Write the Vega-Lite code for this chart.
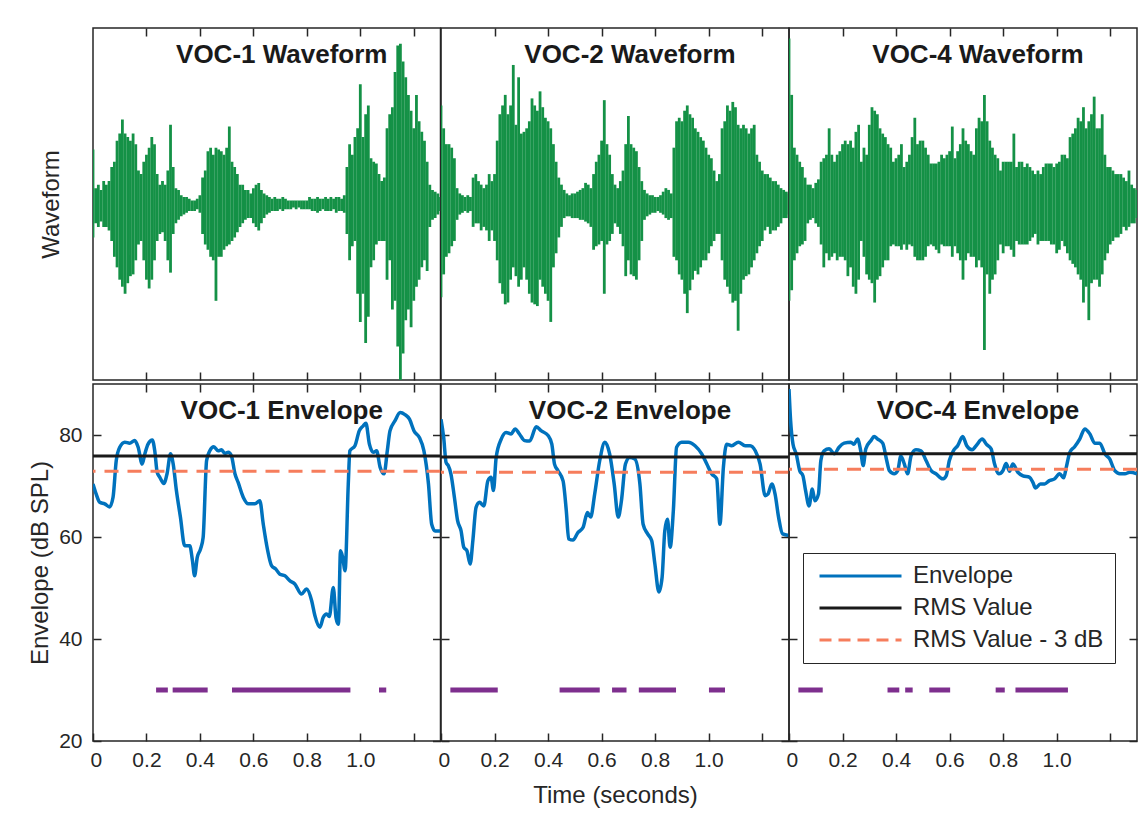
{
"$schema": "https://vega.github.io/schema/vega-lite/v6.json",
"padding": {"left": 27, "top": 26, "right": 5, "bottom": 5},
"background": "white",
"datasets": {
"w1": [
{"t":0.00,"hi":0.31,"lo":-0.19},{"t":0.01,"hi":0.09,"lo":-0.11},{"t":0.02,"hi":0.11,"lo":-0.13},{"t":0.03,"hi":0.08,"lo":-0.10},{"t":0.04,"hi":0.13,"lo":-0.13},{"t":0.05,"hi":0.11,"lo":-0.13},{"t":0.06,"hi":0.13,"lo":-0.15},{"t":0.07,"hi":0.21,"lo":-0.21},{"t":0.08,"hi":0.24,"lo":-0.30},{"t":0.09,"hi":0.36,"lo":-0.36},
{"t":0.10,"hi":0.40,"lo":-0.43},{"t":0.11,"hi":0.48,"lo":-0.47},{"t":0.12,"hi":0.40,"lo":-0.51},{"t":0.13,"hi":0.38,"lo":-0.45},{"t":0.14,"hi":0.36,"lo":-0.41},{"t":0.15,"hi":0.40,"lo":-0.40},{"t":0.16,"hi":0.34,"lo":-0.32},{"t":0.17,"hi":0.19,"lo":-0.23},{"t":0.18,"hi":0.17,"lo":-0.21},{"t":0.19,"hi":0.24,"lo":-0.32},
{"t":0.20,"hi":0.28,"lo":-0.43},{"t":0.21,"hi":0.32,"lo":-0.48},{"t":0.22,"hi":0.38,"lo":-0.43},{"t":0.23,"hi":0.34,"lo":-0.32},{"t":0.24,"hi":0.17,"lo":-0.21},{"t":0.25,"hi":0.11,"lo":-0.17},{"t":0.26,"hi":0.13,"lo":-0.16},{"t":0.27,"hi":0.11,"lo":-0.21},{"t":0.28,"hi":0.19,"lo":-0.32},{"t":0.29,"hi":0.45,"lo":-0.39},
{"t":0.30,"hi":0.21,"lo":-0.17},{"t":0.31,"hi":0.09,"lo":-0.11},{"t":0.32,"hi":0.08,"lo":-0.09},{"t":0.33,"hi":0.05,"lo":-0.07},{"t":0.34,"hi":0.04,"lo":-0.06},{"t":0.35,"hi":0.04,"lo":-0.05},{"t":0.36,"hi":0.03,"lo":-0.04},{"t":0.37,"hi":0.02,"lo":-0.04},{"t":0.38,"hi":0.02,"lo":-0.04},{"t":0.39,"hi":0.03,"lo":-0.03},
{"t":0.40,"hi":0.05,"lo":-0.05},{"t":0.41,"hi":0.15,"lo":-0.17},{"t":0.42,"hi":0.19,"lo":-0.23},{"t":0.43,"hi":0.30,"lo":-0.26},{"t":0.44,"hi":0.32,"lo":-0.30},{"t":0.45,"hi":0.28,"lo":-0.32},{"t":0.46,"hi":0.32,"lo":-0.55},{"t":0.47,"hi":0.31,"lo":-0.30},{"t":0.48,"hi":0.30,"lo":-0.30},{"t":0.49,"hi":0.28,"lo":-0.26},
{"t":0.50,"hi":0.32,"lo":-0.24},{"t":0.51,"hi":0.44,"lo":-0.23},{"t":0.52,"hi":0.24,"lo":-0.21},{"t":0.53,"hi":0.21,"lo":-0.19},{"t":0.54,"hi":0.17,"lo":-0.16},{"t":0.55,"hi":0.11,"lo":-0.13},{"t":0.56,"hi":0.11,"lo":-0.11},{"t":0.57,"hi":0.08,"lo":-0.09},{"t":0.58,"hi":0.08,"lo":-0.08},{"t":0.59,"hi":0.06,"lo":-0.08},
{"t":0.60,"hi":0.09,"lo":-0.11},{"t":0.61,"hi":0.11,"lo":-0.13},{"t":0.62,"hi":0.12,"lo":-0.15},{"t":0.63,"hi":0.08,"lo":-0.11},{"t":0.64,"hi":0.06,"lo":-0.08},{"t":0.65,"hi":0.05,"lo":-0.06},{"t":0.66,"hi":0.04,"lo":-0.05},{"t":0.67,"hi":0.03,"lo":-0.04},{"t":0.68,"hi":0.04,"lo":-0.04},{"t":0.69,"hi":0.03,"lo":-0.04},
{"t":0.70,"hi":0.03,"lo":-0.03},{"t":0.71,"hi":0.04,"lo":-0.04},{"t":0.72,"hi":0.03,"lo":-0.03},{"t":0.73,"hi":0.02,"lo":-0.03},{"t":0.74,"hi":0.02,"lo":-0.03},{"t":0.75,"hi":0.02,"lo":-0.02},{"t":0.76,"hi":0.02,"lo":-0.03},{"t":0.77,"hi":0.02,"lo":-0.02},{"t":0.78,"hi":0.02,"lo":-0.03},{"t":0.79,"hi":0.02,"lo":-0.03},
{"t":0.80,"hi":0.02,"lo":-0.03},{"t":0.81,"hi":0.04,"lo":-0.03},{"t":0.82,"hi":0.03,"lo":-0.04},{"t":0.83,"hi":0.03,"lo":-0.04},{"t":0.84,"hi":0.04,"lo":-0.05},{"t":0.85,"hi":0.03,"lo":-0.04},{"t":0.86,"hi":0.03,"lo":-0.03},{"t":0.87,"hi":0.04,"lo":-0.04},{"t":0.88,"hi":0.03,"lo":-0.04},{"t":0.89,"hi":0.04,"lo":-0.04},
{"t":0.90,"hi":0.03,"lo":-0.03},{"t":0.91,"hi":0.04,"lo":-0.05},{"t":0.92,"hi":0.04,"lo":-0.04},{"t":0.93,"hi":0.03,"lo":-0.04},{"t":0.94,"hi":0.05,"lo":-0.05},{"t":0.95,"hi":0.21,"lo":-0.17},{"t":0.96,"hi":0.34,"lo":-0.32},{"t":0.97,"hi":0.28,"lo":-0.24},{"t":0.98,"hi":0.38,"lo":-0.21},{"t":0.99,"hi":0.43,"lo":-0.51},
{"t":1.00,"hi":0.68,"lo":-0.67},{"t":1.01,"hi":0.38,"lo":-0.51},{"t":1.02,"hi":0.51,"lo":-0.79},{"t":1.03,"hi":0.56,"lo":-0.64},{"t":1.04,"hi":0.26,"lo":-0.36},{"t":1.05,"hi":0.24,"lo":-0.32},{"t":1.06,"hi":0.23,"lo":-0.23},{"t":1.07,"hi":0.17,"lo":-0.21},{"t":1.08,"hi":0.13,"lo":-0.21},{"t":1.09,"hi":0.15,"lo":-0.21},
{"t":1.10,"hi":0.43,"lo":-0.43},{"t":1.11,"hi":0.51,"lo":-0.32},{"t":1.12,"hi":0.55,"lo":-0.60},{"t":1.13,"hi":0.75,"lo":-0.55},{"t":1.14,"hi":0.90,"lo":-0.81},{"t":1.15,"hi":0.91,"lo":-1.0},{"t":1.16,"hi":0.81,"lo":-0.85},{"t":1.17,"hi":0.72,"lo":-0.66},{"t":1.18,"hi":0.62,"lo":-0.60},{"t":1.19,"hi":0.53,"lo":-0.70},
{"t":1.20,"hi":0.43,"lo":-0.55},{"t":1.21,"hi":0.62,"lo":-0.47},{"t":1.22,"hi":0.47,"lo":-0.43},{"t":1.23,"hi":0.41,"lo":-0.36},{"t":1.24,"hi":0.36,"lo":-0.32},{"t":1.25,"hi":0.24,"lo":-0.38},{"t":1.26,"hi":0.11,"lo":-0.13},{"t":1.27,"hi":0.08,"lo":-0.09},{"t":1.28,"hi":0.07,"lo":-0.08},{"t":1.29,"hi":0.06,"lo":-0.06},
{"t":1.30,"hi":0.04,"lo":-0.04}
],
"w2": [
{"t":0.00,"hi":0.56,"lo":-0.53},{"t":0.01,"hi":0.43,"lo":-0.40},{"t":0.02,"hi":0.34,"lo":-0.30},{"t":0.03,"hi":0.34,"lo":-0.28},{"t":0.04,"hi":0.32,"lo":-0.24},{"t":0.05,"hi":0.26,"lo":-0.21},{"t":0.06,"hi":0.09,"lo":-0.09},{"t":0.07,"hi":0.06,"lo":-0.06},{"t":0.08,"hi":0.05,"lo":-0.05},{"t":0.09,"hi":0.04,"lo":-0.04},
{"t":0.10,"hi":0.05,"lo":-0.05},{"t":0.11,"hi":0.04,"lo":-0.04},{"t":0.12,"hi":0.15,"lo":-0.13},{"t":0.13,"hi":0.17,"lo":-0.11},{"t":0.14,"hi":0.13,"lo":-0.11},{"t":0.15,"hi":0.11,"lo":-0.15},{"t":0.16,"hi":0.09,"lo":-0.13},{"t":0.17,"hi":0.11,"lo":-0.15},{"t":0.18,"hi":0.17,"lo":-0.21},{"t":0.19,"hi":0.13,"lo":-0.15},
{"t":0.20,"hi":0.17,"lo":-0.21},{"t":0.21,"hi":0.36,"lo":-0.32},{"t":0.22,"hi":0.51,"lo":-0.45},{"t":0.23,"hi":0.56,"lo":-0.51},{"t":0.24,"hi":0.62,"lo":-0.57},{"t":0.25,"hi":0.51,"lo":-0.56},{"t":0.26,"hi":0.56,"lo":-0.43},{"t":0.27,"hi":0.79,"lo":-0.36},{"t":0.28,"hi":0.45,"lo":-0.41},{"t":0.29,"hi":0.72,"lo":-0.47},
{"t":0.30,"hi":0.40,"lo":-0.43},{"t":0.31,"hi":0.41,"lo":-0.36},{"t":0.32,"hi":0.43,"lo":-0.43},{"t":0.33,"hi":0.47,"lo":-0.51},{"t":0.34,"hi":0.60,"lo":-0.56},{"t":0.35,"hi":0.56,"lo":-0.57},{"t":0.36,"hi":0.53,"lo":-0.58},{"t":0.37,"hi":0.64,"lo":-0.43},{"t":0.38,"hi":0.55,"lo":-0.47},{"t":0.39,"hi":0.49,"lo":-0.51},
{"t":0.40,"hi":0.47,"lo":-0.55},{"t":0.41,"hi":0.43,"lo":-0.67},{"t":0.42,"hi":0.34,"lo":-0.36},{"t":0.43,"hi":0.24,"lo":-0.28},{"t":0.44,"hi":0.15,"lo":-0.19},{"t":0.45,"hi":0.11,"lo":-0.13},{"t":0.46,"hi":0.08,"lo":-0.08},{"t":0.47,"hi":0.06,"lo":-0.07},{"t":0.48,"hi":0.05,"lo":-0.07},{"t":0.49,"hi":0.06,"lo":-0.08},
{"t":0.50,"hi":0.06,"lo":-0.08},{"t":0.51,"hi":0.07,"lo":-0.08},{"t":0.52,"hi":0.08,"lo":-0.09},{"t":0.53,"hi":0.09,"lo":-0.09},{"t":0.54,"hi":0.12,"lo":-0.10},{"t":0.55,"hi":0.11,"lo":-0.11},{"t":0.56,"hi":0.09,"lo":-0.13},{"t":0.57,"hi":0.17,"lo":-0.26},{"t":0.58,"hi":0.24,"lo":-0.24},{"t":0.59,"hi":0.28,"lo":-0.23},
{"t":0.60,"hi":0.36,"lo":-0.21},{"t":0.61,"hi":0.59,"lo":-0.51},{"t":0.62,"hi":0.34,"lo":-0.23},{"t":0.63,"hi":0.28,"lo":-0.21},{"t":0.64,"hi":0.17,"lo":-0.17},{"t":0.65,"hi":0.11,"lo":-0.11},{"t":0.66,"hi":0.09,"lo":-0.13},{"t":0.67,"hi":0.13,"lo":-0.17},{"t":0.68,"hi":0.19,"lo":-0.24},{"t":0.69,"hi":0.34,"lo":-0.41},
{"t":0.70,"hi":0.50,"lo":-0.32},{"t":0.71,"hi":0.34,"lo":-0.40},{"t":0.72,"hi":0.32,"lo":-0.41},{"t":0.73,"hi":0.30,"lo":-0.43},{"t":0.74,"hi":0.21,"lo":-0.32},{"t":0.75,"hi":0.13,"lo":-0.21},{"t":0.76,"hi":0.08,"lo":-0.09},{"t":0.77,"hi":0.06,"lo":-0.07},{"t":0.78,"hi":0.05,"lo":-0.06},{"t":0.79,"hi":0.05,"lo":-0.05},
{"t":0.80,"hi":0.04,"lo":-0.05},{"t":0.81,"hi":0.04,"lo":-0.04},{"t":0.82,"hi":0.05,"lo":-0.05},{"t":0.83,"hi":0.07,"lo":-0.06},{"t":0.84,"hi":0.09,"lo":-0.08},{"t":0.85,"hi":0.08,"lo":-0.09},{"t":0.86,"hi":0.06,"lo":-0.08},{"t":0.87,"hi":0.32,"lo":-0.30},{"t":0.88,"hi":0.47,"lo":-0.32},{"t":0.89,"hi":0.49,"lo":-0.40},
{"t":0.90,"hi":0.47,"lo":-0.43},{"t":0.91,"hi":0.53,"lo":-0.51},{"t":0.92,"hi":0.56,"lo":-0.62},{"t":0.93,"hi":0.51,"lo":-0.49},{"t":0.94,"hi":0.49,"lo":-0.43},{"t":0.95,"hi":0.43,"lo":-0.38},{"t":0.96,"hi":0.41,"lo":-0.40},{"t":0.97,"hi":0.38,"lo":-0.36},{"t":0.98,"hi":0.36,"lo":-0.32},{"t":0.99,"hi":0.32,"lo":-0.32},
{"t":1.00,"hi":0.28,"lo":-0.28},{"t":1.01,"hi":0.26,"lo":-0.24},{"t":1.02,"hi":0.19,"lo":-0.21},{"t":1.03,"hi":0.13,"lo":-0.17},{"t":1.04,"hi":0.17,"lo":-0.17},{"t":1.05,"hi":0.43,"lo":-0.32},{"t":1.06,"hi":0.47,"lo":-0.43},{"t":1.07,"hi":0.56,"lo":-0.47},{"t":1.08,"hi":0.53,"lo":-0.51},{"t":1.09,"hi":0.58,"lo":-0.56},
{"t":1.10,"hi":0.55,"lo":-0.55},{"t":1.11,"hi":0.45,"lo":-0.72},{"t":1.12,"hi":0.43,"lo":-0.51},{"t":1.13,"hi":0.45,"lo":-0.43},{"t":1.14,"hi":0.43,"lo":-0.41},{"t":1.15,"hi":0.40,"lo":-0.40},{"t":1.16,"hi":0.43,"lo":-0.36},{"t":1.17,"hi":0.45,"lo":-0.32},{"t":1.18,"hi":0.28,"lo":-0.28},{"t":1.19,"hi":0.24,"lo":-0.24},
{"t":1.20,"hi":0.19,"lo":-0.21},{"t":1.21,"hi":0.17,"lo":-0.15},{"t":1.22,"hi":0.17,"lo":-0.13},{"t":1.23,"hi":0.15,"lo":-0.17},{"t":1.24,"hi":0.13,"lo":-0.15},{"t":1.25,"hi":0.13,"lo":-0.15},{"t":1.26,"hi":0.11,"lo":-0.13},{"t":1.27,"hi":0.09,"lo":-0.11},{"t":1.28,"hi":0.08,"lo":-0.08},{"t":1.29,"hi":0.07,"lo":-0.08},
{"t":1.30,"hi":0.06,"lo":-0.06}
],
"w4": [
{"t":0.00,"hi":0.94,"lo":-0.55},{"t":0.01,"hi":0.62,"lo":-0.49},{"t":0.02,"hi":0.32,"lo":-0.32},{"t":0.03,"hi":0.28,"lo":-0.28},{"t":0.04,"hi":0.24,"lo":-0.24},{"t":0.05,"hi":0.21,"lo":-0.23},{"t":0.06,"hi":0.15,"lo":-0.21},{"t":0.07,"hi":0.11,"lo":-0.11},{"t":0.08,"hi":0.11,"lo":-0.09},{"t":0.09,"hi":0.09,"lo":-0.08},
{"t":0.10,"hi":0.12,"lo":-0.11},{"t":0.11,"hi":0.14,"lo":-0.13},{"t":0.12,"hi":0.24,"lo":-0.23},{"t":0.13,"hi":0.26,"lo":-0.36},{"t":0.14,"hi":0.28,"lo":-0.28},{"t":0.15,"hi":0.43,"lo":-0.32},{"t":0.16,"hi":0.28,"lo":-0.30},{"t":0.17,"hi":0.24,"lo":-0.28},{"t":0.18,"hi":0.28,"lo":-0.32},{"t":0.19,"hi":0.30,"lo":-0.30},
{"t":0.20,"hi":0.34,"lo":-0.30},{"t":0.21,"hi":0.36,"lo":-0.32},{"t":0.22,"hi":0.34,"lo":-0.41},{"t":0.23,"hi":0.36,"lo":-0.36},{"t":0.24,"hi":0.32,"lo":-0.47},{"t":0.25,"hi":0.41,"lo":-0.51},{"t":0.26,"hi":0.45,"lo":-0.43},{"t":0.27,"hi":0.24,"lo":-0.21},{"t":0.28,"hi":0.32,"lo":-0.30},{"t":0.29,"hi":0.28,"lo":-0.40},
{"t":0.30,"hi":0.45,"lo":-0.43},{"t":0.31,"hi":0.55,"lo":-0.45},{"t":0.32,"hi":0.53,"lo":-0.56},{"t":0.33,"hi":0.51,"lo":-0.43},{"t":0.34,"hi":0.43,"lo":-0.41},{"t":0.35,"hi":0.40,"lo":-0.36},{"t":0.36,"hi":0.38,"lo":-0.32},{"t":0.37,"hi":0.34,"lo":-0.32},{"t":0.38,"hi":0.32,"lo":-0.24},{"t":0.39,"hi":0.24,"lo":-0.23},
{"t":0.40,"hi":0.26,"lo":-0.24},{"t":0.41,"hi":0.28,"lo":-0.24},{"t":0.42,"hi":0.34,"lo":-0.26},{"t":0.43,"hi":0.21,"lo":-0.23},{"t":0.44,"hi":0.24,"lo":-0.26},{"t":0.45,"hi":0.28,"lo":-0.23},{"t":0.46,"hi":0.38,"lo":-0.24},{"t":0.47,"hi":0.49,"lo":-0.30},{"t":0.48,"hi":0.34,"lo":-0.32},{"t":0.49,"hi":0.36,"lo":-0.32},
{"t":0.50,"hi":0.36,"lo":-0.32},{"t":0.51,"hi":0.32,"lo":-0.30},{"t":0.52,"hi":0.28,"lo":-0.24},{"t":0.53,"hi":0.23,"lo":-0.23},{"t":0.54,"hi":0.23,"lo":-0.24},{"t":0.55,"hi":0.23,"lo":-0.26},{"t":0.56,"hi":0.24,"lo":-0.28},{"t":0.57,"hi":0.28,"lo":-0.23},{"t":0.58,"hi":0.26,"lo":-0.24},{"t":0.59,"hi":0.28,"lo":-0.24},
{"t":0.60,"hi":0.30,"lo":-0.24},{"t":0.61,"hi":0.44,"lo":-0.30},{"t":0.62,"hi":0.26,"lo":-0.24},{"t":0.63,"hi":0.30,"lo":-0.28},{"t":0.64,"hi":0.34,"lo":-0.32},{"t":0.65,"hi":0.43,"lo":-0.43},{"t":0.66,"hi":0.36,"lo":-0.32},{"t":0.67,"hi":0.34,"lo":-0.28},{"t":0.68,"hi":0.30,"lo":-0.30},{"t":0.69,"hi":0.28,"lo":-0.30},
{"t":0.70,"hi":0.43,"lo":-0.36},{"t":0.71,"hi":0.49,"lo":-0.32},{"t":0.72,"hi":0.47,"lo":-0.36},{"t":0.73,"hi":0.62,"lo":-0.83},{"t":0.74,"hi":0.47,"lo":-0.40},{"t":0.75,"hi":0.36,"lo":-0.51},{"t":0.76,"hi":0.32,"lo":-0.43},{"t":0.77,"hi":0.28,"lo":-0.40},{"t":0.78,"hi":0.26,"lo":-0.32},{"t":0.79,"hi":0.19,"lo":-0.23},
{"t":0.80,"hi":0.24,"lo":-0.28},{"t":0.81,"hi":0.24,"lo":-0.24},{"t":0.82,"hi":0.24,"lo":-0.24},{"t":0.83,"hi":0.24,"lo":-0.26},{"t":0.84,"hi":0.40,"lo":-0.30},{"t":0.85,"hi":0.21,"lo":-0.21},{"t":0.86,"hi":0.24,"lo":-0.23},{"t":0.87,"hi":0.24,"lo":-0.23},{"t":0.88,"hi":0.21,"lo":-0.23},{"t":0.89,"hi":0.23,"lo":-0.23},
{"t":0.90,"hi":0.21,"lo":-0.21},{"t":0.91,"hi":0.19,"lo":-0.19},{"t":0.92,"hi":0.17,"lo":-0.17},{"t":0.93,"hi":0.19,"lo":-0.23},{"t":0.94,"hi":0.17,"lo":-0.21},{"t":0.95,"hi":0.21,"lo":-0.21},{"t":0.96,"hi":0.23,"lo":-0.21},{"t":0.97,"hi":0.23,"lo":-0.21},{"t":0.98,"hi":0.23,"lo":-0.23},{"t":0.99,"hi":0.21,"lo":-0.23},
{"t":1.00,"hi":0.23,"lo":-0.28},{"t":1.01,"hi":0.24,"lo":-0.26},{"t":1.02,"hi":0.28,"lo":-0.21},{"t":1.03,"hi":0.28,"lo":-0.24},{"t":1.04,"hi":0.26,"lo":-0.28},{"t":1.05,"hi":0.38,"lo":-0.32},{"t":1.06,"hi":0.40,"lo":-0.34},{"t":1.07,"hi":0.43,"lo":-0.36},{"t":1.08,"hi":0.49,"lo":-0.40},{"t":1.09,"hi":0.47,"lo":-0.43},
{"t":1.10,"hi":0.55,"lo":-0.56},{"t":1.11,"hi":0.43,"lo":-0.47},{"t":1.12,"hi":0.47,"lo":-0.66},{"t":1.13,"hi":0.51,"lo":-0.45},{"t":1.14,"hi":0.61,"lo":-0.43},{"t":1.15,"hi":0.43,"lo":-0.43},{"t":1.16,"hi":0.43,"lo":-0.47},{"t":1.17,"hi":0.51,"lo":-0.40},{"t":1.18,"hi":0.28,"lo":-0.32},{"t":1.19,"hi":0.21,"lo":-0.28},
{"t":1.20,"hi":0.21,"lo":-0.23},{"t":1.21,"hi":0.19,"lo":-0.21},{"t":1.22,"hi":0.17,"lo":-0.19},{"t":1.23,"hi":0.17,"lo":-0.19},{"t":1.24,"hi":0.17,"lo":-0.17},{"t":1.25,"hi":0.15,"lo":-0.13},{"t":1.26,"hi":0.13,"lo":-0.15},{"t":1.27,"hi":0.19,"lo":-0.13},{"t":1.28,"hi":0.11,"lo":-0.11},{"t":1.29,"hi":0.09,"lo":-0.11},
{"t":1.30,"hi":0.08,"lo":-0.08}
],
"e1": [
{"t":0,"db":70.4},{"t":0.012,"db":68.4},{"t":0.025,"db":66.8},{"t":0.044,"db":66.5},{"t":0.062,"db":65.9},{"t":0.075,"db":67.8},{"t":0.087,"db":75.0},{"t":0.1,"db":77.6},{"t":0.119,"db":78.6},{"t":0.137,"db":78.4},{"t":0.156,"db":78.9},{"t":0.169,"db":77.6},{"t":0.184,"db":74.3},{"t":0.194,"db":76.3},{"t":0.206,"db":78.2},{"t":0.222,"db":79.0},{"t":0.231,"db":76.9},{"t":0.24,"db":72.7},{"t":0.25,"db":71.7},{"t":0.265,"db":70.5},{"t":0.277,"db":72.4},{"t":0.29,"db":76.3},{"t":0.3,"db":74.3},{"t":0.312,"db":69.1},{"t":0.327,"db":63.9},{"t":0.343,"db":58.3},{"t":0.362,"db":58.3},{"t":0.372,"db":55.4},{"t":0.38,"db":52.4},{"t":0.39,"db":56.0},{"t":0.402,"db":57.6},{"t":0.412,"db":59.9},{"t":0.425,"db":75.0},{"t":0.437,"db":76.9},{"t":0.452,"db":77.7},{"t":0.468,"db":76.9},{"t":0.481,"db":77.1},{"t":0.493,"db":76.4},{"t":0.506,"db":76.6},{"t":0.518,"db":75.9},{"t":0.531,"db":72.4},{"t":0.543,"db":70.7},{"t":0.562,"db":67.8},{"t":0.581,"db":66.5},{"t":0.606,"db":66.5},{"t":0.624,"db":67.1},{"t":0.637,"db":62.5},{"t":0.649,"db":58.6},{"t":0.668,"db":54.4},{"t":0.684,"db":53.7},{"t":0.699,"db":52.7},{"t":0.718,"db":52.4},{"t":0.737,"db":51.4},{"t":0.755,"db":50.8},{"t":0.78,"db":48.8},{"t":0.799,"db":49.8},{"t":0.818,"db":47.5},{"t":0.83,"db":44.6},{"t":0.849,"db":42.3},{"t":0.861,"db":44.2},{"t":0.874,"db":44.9},{"t":0.884,"db":44.4},{"t":0.899,"db":50.1},{"t":0.909,"db":44.2},{"t":0.918,"db":42.9},{"t":0.926,"db":57.3},{"t":0.934,"db":56.0},{"t":0.943,"db":53.4},{"t":0.955,"db":70.4},{"t":0.961,"db":76.9},{"t":0.98,"db":77.9},{"t":0.996,"db":80.8},{"t":1.011,"db":81.8},{"t":1.021,"db":82.3},{"t":1.034,"db":78.2},{"t":1.049,"db":76.6},{"t":1.061,"db":76.9},{"t":1.074,"db":73.7},{"t":1.089,"db":72.4},{"t":1.101,"db":76.9},{"t":1.111,"db":80.8},{"t":1.13,"db":82.8},{"t":1.149,"db":84.4},{"t":1.167,"db":84.0},{"t":1.184,"db":83.1},{"t":1.201,"db":80.8},{"t":1.221,"db":79.5},{"t":1.238,"db":76.9},{"t":1.255,"db":70.4},{"t":1.267,"db":62.5},{"t":1.28,"db":61.2},{"t":1.3,"db":61.2}
],
"e2": [
{"t":0,"db":83.1},{"t":0.01,"db":79.5},{"t":0.019,"db":74.6},{"t":0.027,"db":74.0},{"t":0.037,"db":72.4},{"t":0.05,"db":67.8},{"t":0.062,"db":63.2},{"t":0.075,"db":61.2},{"t":0.085,"db":58.0},{"t":0.097,"db":57.3},{"t":0.109,"db":54.7},{"t":0.119,"db":59.3},{"t":0.131,"db":65.8},{"t":0.144,"db":66.8},{"t":0.16,"db":66.1},{"t":0.175,"db":71.0},{"t":0.187,"db":71.7},{"t":0.196,"db":69.1},{"t":0.206,"db":75.6},{"t":0.225,"db":79.2},{"t":0.243,"db":80.5},{"t":0.262,"db":80.2},{"t":0.277,"db":81.2},{"t":0.293,"db":80.2},{"t":0.312,"db":78.9},{"t":0.331,"db":78.8},{"t":0.356,"db":81.6},{"t":0.375,"db":80.8},{"t":0.4,"db":79.9},{"t":0.414,"db":78.2},{"t":0.424,"db":74.3},{"t":0.437,"db":73.0},{"t":0.456,"db":71.0},{"t":0.468,"db":65.2},{"t":0.477,"db":59.6},{"t":0.493,"db":59.4},{"t":0.512,"db":60.9},{"t":0.531,"db":61.9},{"t":0.547,"db":64.8},{"t":0.559,"db":63.9},{"t":0.574,"db":68.4},{"t":0.593,"db":75.0},{"t":0.612,"db":78.6},{"t":0.63,"db":76.3},{"t":0.647,"db":70.4},{"t":0.662,"db":63.9},{"t":0.674,"db":67.1},{"t":0.689,"db":74.3},{"t":0.705,"db":75.6},{"t":0.724,"db":75.3},{"t":0.743,"db":70.4},{"t":0.755,"db":62.5},{"t":0.772,"db":60.6},{"t":0.787,"db":59.3},{"t":0.799,"db":54.7},{"t":0.814,"db":49.2},{"t":0.826,"db":52.1},{"t":0.836,"db":61.2},{"t":0.846,"db":63.5},{"t":0.856,"db":58.0},{"t":0.868,"db":65.2},{"t":0.88,"db":77.6},{"t":0.899,"db":78.6},{"t":0.924,"db":78.6},{"t":0.949,"db":77.9},{"t":0.974,"db":76.3},{"t":0.993,"db":74.3},{"t":1.011,"db":72.4},{"t":1.03,"db":71.4},{"t":1.042,"db":62.5},{"t":1.055,"db":73.7},{"t":1.067,"db":78.2},{"t":1.086,"db":77.9},{"t":1.111,"db":78.6},{"t":1.136,"db":77.9},{"t":1.155,"db":77.9},{"t":1.174,"db":76.9},{"t":1.192,"db":74.3},{"t":1.211,"db":68.1},{"t":1.221,"db":68.4},{"t":1.236,"db":70.4},{"t":1.248,"db":68.4},{"t":1.261,"db":63.9},{"t":1.276,"db":60.6},{"t":1.3,"db":60.3}
],
"e4": [
{"t":0,"db":89.0},{"t":0.006,"db":82.8},{"t":0.015,"db":78.2},{"t":0.027,"db":76.3},{"t":0.04,"db":73.0},{"t":0.052,"db":72.0},{"t":0.062,"db":69.1},{"t":0.075,"db":66.1},{"t":0.087,"db":69.4},{"t":0.097,"db":67.1},{"t":0.11,"db":68.4},{"t":0.119,"db":75.0},{"t":0.131,"db":76.9},{"t":0.15,"db":77.3},{"t":0.169,"db":76.3},{"t":0.187,"db":77.6},{"t":0.206,"db":78.4},{"t":0.231,"db":78.6},{"t":0.243,"db":78.2},{"t":0.256,"db":79.2},{"t":0.268,"db":76.9},{"t":0.277,"db":74.0},{"t":0.287,"db":77.3},{"t":0.306,"db":78.9},{"t":0.318,"db":79.7},{"t":0.331,"db":79.2},{"t":0.35,"db":78.4},{"t":0.365,"db":75.0},{"t":0.375,"db":73.0},{"t":0.393,"db":72.4},{"t":0.406,"db":73.0},{"t":0.418,"db":75.9},{"t":0.431,"db":74.3},{"t":0.443,"db":72.4},{"t":0.456,"db":75.9},{"t":0.474,"db":77.1},{"t":0.493,"db":76.9},{"t":0.512,"db":75.0},{"t":0.531,"db":73.0},{"t":0.549,"db":72.4},{"t":0.574,"db":71.4},{"t":0.587,"db":72.0},{"t":0.599,"db":75.0},{"t":0.614,"db":76.9},{"t":0.63,"db":77.9},{"t":0.649,"db":79.7},{"t":0.664,"db":77.9},{"t":0.684,"db":77.1},{"t":0.699,"db":77.9},{"t":0.722,"db":79.2},{"t":0.737,"db":78.2},{"t":0.755,"db":77.3},{"t":0.768,"db":74.3},{"t":0.784,"db":72.4},{"t":0.799,"db":73.0},{"t":0.811,"db":74.4},{"t":0.824,"db":72.9},{"t":0.836,"db":74.3},{"t":0.855,"db":72.7},{"t":0.874,"db":72.0},{"t":0.899,"db":71.7},{"t":0.911,"db":70.7},{"t":0.921,"db":69.6},{"t":0.939,"db":70.4},{"t":0.955,"db":70.4},{"t":0.971,"db":71.0},{"t":0.992,"db":71.4},{"t":1.011,"db":72.4},{"t":1.026,"db":71.6},{"t":1.036,"db":73.7},{"t":1.049,"db":76.6},{"t":1.067,"db":77.7},{"t":1.086,"db":79.2},{"t":1.105,"db":81.2},{"t":1.124,"db":80.2},{"t":1.142,"db":78.4},{"t":1.161,"db":78.4},{"t":1.18,"db":76.3},{"t":1.198,"db":75.3},{"t":1.217,"db":73.0},{"t":1.236,"db":72.4},{"t":1.255,"db":72.4},{"t":1.273,"db":72.7},{"t":1.3,"db":72.4}
],
"r1": [{"series":"RMS Value","db":75.9},{"series":"RMS Value - 3 dB","db":72.9}],
"r2": [{"series":"RMS Value","db":75.7},{"series":"RMS Value - 3 dB","db":72.7}],
"r4": [{"series":"RMS Value","db":76.3},{"series":"RMS Value - 3 dB","db":73.3}],
"s1": [{"t0":0.236,"t1":0.28},{"t0":0.298,"t1":0.429},{"t0":0.52,"t1":0.963},{"t0":1.07,"t1":1.097}],
"s2": [{"t0":0.035,"t1":0.212},{"t0":0.443,"t1":0.593},{"t0":0.639,"t1":0.693},{"t0":0.739,"t1":0.878},{"t0":1.001,"t1":1.061}],
"s4": [{"t0":0.035,"t1":0.126},{"t0":0.368,"t1":0.412},{"t0":0.434,"t1":0.462},{"t0":0.524,"t1":0.602},{"t0":0.772,"t1":0.806},{"t0":0.846,"t1":1.042}]
},
"vconcat": [
{
"hconcat": [
{"width": 347.5, "height": 352, "title": "VOC-1 Waveform", "data": {"name": "w1"},
 "layer": [
  {"mark": {"type": "rule", "color": "#149146", "strokeWidth": 2.8, "clip": true},
   "encoding": {
    "x": {"field": "t", "type": "quantitative", "scale": {"domain": [0, 1.3], "nice": false, "zero": false}, "axis": {"orient": "bottom", "values": [0.2,0.4,0.6,0.8,1.0,1.2], "labels": false, "title": null}},
    "y": {"field": "lo", "type": "quantitative", "scale": {"domain": [-1, 1], "nice": false}, "axis": {"title": "Waveform", "ticks": false, "labels": false, "titlePadding": 30}},
    "y2": {"field": "hi"}}},
  {"mark": {"type": "rule", "opacity": 0},
   "encoding": {"x": {"field": "t", "type": "quantitative", "axis": {"orient": "top", "values": [0.2,0.4,0.6,0.8,1.0,1.2], "labels": false, "title": null}}}}
 ],
 "resolve": {"axis": {"x": "independent", "y": "independent"}}},
{"width": 348, "height": 352, "title": "VOC-2 Waveform", "data": {"name": "w2"},
 "layer": [
  {"mark": {"type": "rule", "color": "#149146", "strokeWidth": 2.8, "clip": true},
   "encoding": {
    "x": {"field": "t", "type": "quantitative", "scale": {"domain": [0, 1.3], "nice": false, "zero": false}, "axis": {"orient": "bottom", "values": [0.2,0.4,0.6,0.8,1.0,1.2], "labels": false, "title": null}},
    "y": {"field": "lo", "type": "quantitative", "scale": {"domain": [-1, 1], "nice": false}, "axis": null},
    "y2": {"field": "hi"}}},
  {"mark": {"type": "rule", "opacity": 0},
   "encoding": {"x": {"field": "t", "type": "quantitative", "axis": {"orient": "top", "values": [0.2,0.4,0.6,0.8,1.0,1.2], "labels": false, "title": null}}}}
 ],
 "resolve": {"axis": {"x": "independent", "y": "independent"}}},
{"width": 348, "height": 352, "title": "VOC-4 Waveform", "data": {"name": "w4"},
 "layer": [
  {"mark": {"type": "rule", "color": "#149146", "strokeWidth": 2.8, "clip": true},
   "encoding": {
    "x": {"field": "t", "type": "quantitative", "scale": {"domain": [0, 1.3], "nice": false, "zero": false}, "axis": {"orient": "bottom", "values": [0.2,0.4,0.6,0.8,1.0,1.2], "labels": false, "title": null}},
    "y": {"field": "lo", "type": "quantitative", "scale": {"domain": [-1, 1], "nice": false}, "axis": null},
    "y2": {"field": "hi"}}},
  {"mark": {"type": "rule", "opacity": 0},
   "encoding": {"x": {"field": "t", "type": "quantitative", "axis": {"orient": "top", "values": [0.2,0.4,0.6,0.8,1.0,1.2], "labels": false, "title": null}}}}
 ],
 "resolve": {"axis": {"x": "independent", "y": "independent"}}}
],
"spacing": 0, "bounds": "flush"
},
{
"hconcat": [
{"width": 347.5, "height": 357, "title": "VOC-1 Envelope",
 "layer": [
  {"data": {"name": "e1"}, "mark": {"type": "line", "color": "#0072BD", "strokeWidth": 3.5, "interpolate": "monotone", "clip": true},
   "encoding": {
    "x": {"field": "t", "type": "quantitative", "scale": {"domain": [0, 1.3], "nice": false, "zero": false}, "axis": {"orient": "bottom", "values": [0,0.2,0.4,0.6,0.8,1.0,1.2], "labelExpr": "datum.value === 0 ? '0' : (datum.value > 1.1 ? '' : format(datum.value, '.1f'))", "labelFlush": true, "labelFlushOffset": 3, "labelPadding": 16, "title": null}},
    "y": {"field": "db", "type": "quantitative", "scale": {"domain": [20, 90], "nice": false, "zero": false}, "axis": {"orient": "left", "values": [20,40,60,80], "labelPadding": 19, "title": "Envelope (dB SPL)", "titlePadding": 6}}}},
  {"data": {"name": "r1"}, "mark": {"type": "rule", "strokeWidth": 3},
   "encoding": {
    "y": {"field": "db", "type": "quantitative", "axis": null},
    "color": {"condition": {"test": "datum.series === 'RMS Value'", "value": "#1a1a1a"}, "value": "#F67D5C"},
    "strokeDash": {"condition": {"test": "datum.series === 'RMS Value'", "value": [1, 0]}, "value": [14, 9]}}},
  {"data": {"name": "s1"}, "mark": {"type": "rule", "color": "#7E2F8E", "strokeWidth": 5},
   "encoding": {
    "x": {"field": "t0", "type": "quantitative", "axis": {"orient": "top", "values": [0.2,0.4,0.6,0.8,1.0,1.2], "labels": false, "title": null}},
    "x2": {"field": "t1"},
    "y": {"datum": 30, "type": "quantitative", "axis": {"orient": "right", "values": [20,40,60,80], "labels": false, "title": null}}}}
 ],
 "resolve": {"axis": {"x": "independent", "y": "independent"}}},
{"width": 348, "height": 357, "title": "VOC-2 Envelope",
 "layer": [
  {"data": {"name": "e2"}, "mark": {"type": "line", "color": "#0072BD", "strokeWidth": 3.5, "interpolate": "monotone", "clip": true},
   "encoding": {
    "x": {"field": "t", "type": "quantitative", "scale": {"domain": [0, 1.3], "nice": false, "zero": false}, "axis": {"orient": "bottom", "values": [0,0.2,0.4,0.6,0.8,1.0,1.2], "labelExpr": "datum.value === 0 ? '0' : (datum.value > 1.1 ? '' : format(datum.value, '.1f'))", "labelFlush": true, "labelFlushOffset": 3, "labelPadding": 16, "title": "Time (seconds)", "titlePadding": 13}},
    "y": {"field": "db", "type": "quantitative", "scale": {"domain": [20, 90], "nice": false, "zero": false}, "axis": {"orient": "left", "values": [20,40,60,80], "labels": false, "title": null}}}},
  {"data": {"name": "r2"}, "mark": {"type": "rule", "strokeWidth": 3},
   "encoding": {
    "y": {"field": "db", "type": "quantitative", "axis": null},
    "color": {"condition": {"test": "datum.series === 'RMS Value'", "value": "#1a1a1a"}, "value": "#F67D5C"},
    "strokeDash": {"condition": {"test": "datum.series === 'RMS Value'", "value": [1, 0]}, "value": [14, 9]}}},
  {"data": {"name": "s2"}, "mark": {"type": "rule", "color": "#7E2F8E", "strokeWidth": 5},
   "encoding": {
    "x": {"field": "t0", "type": "quantitative", "axis": {"orient": "top", "values": [0.2,0.4,0.6,0.8,1.0,1.2], "labels": false, "title": null}},
    "x2": {"field": "t1"},
    "y": {"datum": 30, "type": "quantitative", "axis": {"orient": "right", "values": [20,40,60,80], "labels": false, "title": null}}}}
 ],
 "resolve": {"axis": {"x": "independent", "y": "independent"}}},
{"width": 348, "height": 357, "title": "VOC-4 Envelope",
 "layer": [
  {"data": {"name": "e4"}, "mark": {"type": "line", "strokeWidth": 3.5, "interpolate": "monotone", "clip": true},
   "encoding": {
    "x": {"field": "t", "type": "quantitative", "scale": {"domain": [0, 1.3], "nice": false, "zero": false}, "axis": {"orient": "bottom", "values": [0,0.2,0.4,0.6,0.8,1.0,1.2], "labelExpr": "datum.value === 0 ? '0' : (datum.value > 1.1 ? '' : format(datum.value, '.1f'))", "labelFlush": true, "labelFlushOffset": 3, "labelPadding": 16, "title": null}},
    "y": {"field": "db", "type": "quantitative", "scale": {"domain": [20, 90], "nice": false, "zero": false}, "axis": {"orient": "left", "values": [20,40,60,80], "labels": false, "title": null}},
    "color": {"datum": "Envelope", "type": "nominal", "scale": {"domain": ["Envelope", "RMS Value", "RMS Value - 3 dB"], "range": ["#0072BD", "#1a1a1a", "#F67D5C"]},
      "legend": {"orient": "none", "legendX": 14, "legendY": 169, "title": null, "symbolType": "stroke", "symbolSize": 6724, "clipHeight": 24, "symbolStrokeWidth": 3, "labelFontSize": 24, "labelLimit": 400, "labelColor": "#262626", "labelFont": "Liberation Sans", "rowPadding": 8, "padding": 11, "strokeColor": "#262626", "fillColor": "white", "symbolOffset": 4, "labelOffset": 10,
        "encode": {"symbols": {"update": {"strokeDash": {"signal": "datum.value === 'RMS Value - 3 dB' ? [12, 7] : [1, 0]"}}}}}}}},
  {"data": {"name": "r4"}, "mark": {"type": "rule", "strokeWidth": 3},
   "encoding": {
    "y": {"field": "db", "type": "quantitative", "axis": null},
    "color": {"field": "series", "type": "nominal", "legend": {"title": null}},
    "strokeDash": {"condition": {"test": "datum.series === 'RMS Value'", "value": [1, 0]}, "value": [14, 9]}}},
  {"data": {"name": "s4"}, "mark": {"type": "rule", "color": "#7E2F8E", "strokeWidth": 5},
   "encoding": {
    "x": {"field": "t0", "type": "quantitative", "axis": {"orient": "top", "values": [0.2,0.4,0.6,0.8,1.0,1.2], "labels": false, "title": null}},
    "x2": {"field": "t1"},
    "y": {"datum": 30, "type": "quantitative", "axis": {"orient": "right", "values": [20,40,60,80], "labels": false, "title": null}}}}
 ],
 "resolve": {"axis": {"x": "independent", "y": "independent"}}}
],
"spacing": 0, "bounds": "flush",
"resolve": {"scale": {"color": "independent"}, "legend": {"color": "independent"}}
}
],
"spacing": 0,
"resolve": {"scale": {"color": "independent"}, "legend": {"color": "independent"}},
"config": {
 "font": "Liberation Sans",
 "view": {"stroke": "#262626", "strokeWidth": 1.5},
 "axis": {"domain": false, "grid": false, "tickColor": "#262626", "tickSize": -8, "tickWidth": 1.5, "labelColor": "#262626", "labelFontSize": 21, "labelFont": "Liberation Sans", "titleColor": "#262626", "titleFontSize": 24, "titleFontWeight": "normal", "titleFont": "Liberation Sans"},
 "title": {"fontSize": 26, "fontWeight": "bold", "color": "#1a1a1a", "font": "Liberation Sans", "anchor": "middle", "frame": "group", "dx": 15, "baseline": "alphabetic", "offset": -41}
}
}
